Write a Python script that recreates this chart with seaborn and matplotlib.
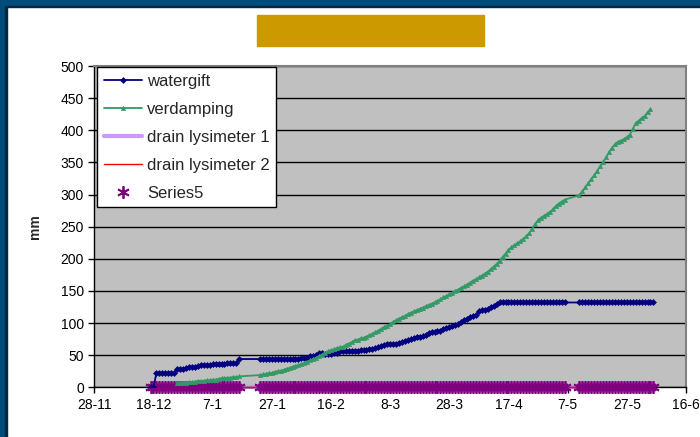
import pandas as pd
import seaborn as sns
import matplotlib.pyplot as plt
from matplotlib.patches import Rectangle

# day 0 = 28-11; days without data (line just joins across them)
start = pd.Timestamp("2004-11-28")
gap_days = [50, 51, 52, 53, 54, 55, 160, 161, 162, 163]

# watergift, days 19..189 (minus gaps)
watergift = [
    0, 0,
    22, 22, 22, 22, 22, 22, 22,
    28.5, 28.5, 29, 30, 31, 31, 32, 33, 34, 34, 35, 35, 36, 36, 37, 37, 37,
    38, 38, 38, 38, 44,
    44, 44, 44, 44, 44, 44, 44, 44, 44, 44, 44, 44, 44,
    44, 45, 45, 46, 48, 49, 51, 53, 53, 52, 52, 52, 53, 54, 56, 56, 56, 56,
    57, 57, 57, 58, 58, 58, 59, 60, 61, 62, 64, 66, 67, 67, 68, 68, 69, 70,
    72, 73, 75, 77, 79, 79, 80, 82, 84, 86, 86, 87, 88, 90, 93, 94, 96, 97,
    99, 101, 104, 107, 109, 111, 112, 118, 120, 121, 122, 125, 127, 130, 132,
    132, 132, 132, 132, 132, 132, 132, 132, 132, 132, 132,
    132, 132, 132, 132, 132, 132, 132, 132, 132, 132, 132,
    132, 132, 132, 132, 132, 132, 132, 132, 132, 132, 132, 132, 132,
    132, 132, 132, 132, 132, 132, 132, 132, 132, 132, 132, 132, 132,
]

# verdamping, days 28..188 (minus gaps)
verdamping = [
    6, 6, 7, 7, 8, 8, 9, 10, 10, 10, 11, 11, 12, 12, 13, 14, 14, 15, 15, 16,
    16, 17,
    19, 20, 21, 22, 22, 24, 25, 26, 27, 29,
    30, 32, 33, 35, 36, 38, 40, 42, 44, 46,
    49, 51, 54, 56, 58, 59, 61, 62, 63, 66,
    68, 70, 73, 74, 76, 77, 79, 81, 83, 86,
    88, 91, 94, 96, 98, 102, 104, 107, 109, 111,
    114, 116, 118, 120, 122, 124, 126, 128, 130, 132,
    134, 137, 140, 142, 145, 147, 150, 152, 155, 157,
    160, 163, 166, 168, 171, 174, 177, 180, 184, 188,
    192, 197, 203, 208, 214, 218, 221, 224, 227, 231,
    235, 240, 247, 254, 260, 264, 267, 270, 273, 277,
    282, 286, 289, 292,
    299, 305, 311, 318, 324, 330, 337, 344, 351, 358,
    366, 373, 378, 382, 384, 386, 389, 393, 402, 411,
    415, 419, 422, 428, 433,
]

tick_dates = ["2004-11-28", "2004-12-18", "2005-01-07", "2005-01-27",
              "2005-02-16", "2005-03-08", "2005-03-28", "2005-04-17",
              "2005-05-07", "2005-05-27", "2005-06-16"]
tick_labels = ["28-11", "18-12", "7-1", "27-1", "16-2", "8-3", "28-3",
               "17-4", "7-5", "27-5", "16-6"]

days_w = [d for d in range(19, 190) if d not in gap_days]
days_v = [d for d in range(28, 189) if d not in gap_days]
dates_w = start + pd.to_timedelta(days_w, unit="D")
dates_v = start + pd.to_timedelta(days_v, unit="D")

# drains and Series5 stay at 0 the whole period
drain1 = [0] * len(days_w)
drain2 = [0] * len(days_w)
series5 = [0] * len(days_w)

sns.set_style("ticks")
plt.rcParams['font.family'] = ['Liberation Sans', 'DejaVu Sans']

fig = plt.figure(figsize=(7, 4.37), dpi=100)
fig.patch.set_facecolor('white')

# frame of the slide and the empty title box
fig.patches.append(Rectangle((0, 0), 5 / 700, 1, transform=fig.transFigure, color='#004C7A'))
fig.patches.append(Rectangle((5 / 700, 0), 2 / 700, 1 - 6 / 437, transform=fig.transFigure, color='#002A44'))
fig.patches.append(Rectangle((0, 1 - 6 / 437), 1, 6 / 437, transform=fig.transFigure, color='#004C7A'))
fig.patches.append(Rectangle((5 / 700, 1 - 7 / 437), 1, 1 / 437, transform=fig.transFigure, color='#002A44'))
fig.patches.append(Rectangle((257 / 700, 1 - 46 / 437), 227 / 700, 31 / 437,
                             transform=fig.transFigure, color='#CC9900'))

ax = fig.add_axes([0.1347, 0.1137, 0.8453, 0.7352])
ax.set_facecolor('#C0C0C0')

sns.lineplot(x=dates_w, y=drain1, color='#CC99FF', lw=3, ax=ax,
             label='drain lysimeter 1', zorder=2, clip_on=False)
sns.lineplot(x=dates_w, y=drain2, color='#FF0000', lw=1, ax=ax,
             label='drain lysimeter 2', zorder=3, clip_on=False)
sns.lineplot(x=dates_w, y=series5, color='#800080', linestyle='none',
             marker=(6, 2, 0), markersize=9, mec='#800080', mew=1.3, ax=ax,
             label='Series5', zorder=4, clip_on=False)
sns.lineplot(x=dates_w, y=watergift, color='#000080', lw=1.3, marker='D',
             markersize=3, mec='#000080', mew=0.5, ax=ax,
             label='watergift', zorder=5)
sns.lineplot(x=dates_v, y=verdamping, color='#339966', lw=1.3, marker='^',
             markersize=3, mec='#339966', mew=0.5, ax=ax,
             label='verdamping', zorder=6)

ax.set_ylim(0, 500)
ax.set_yticks(range(0, 501, 50))
ax.set_xlim(pd.Timestamp(tick_dates[0]), pd.Timestamp(tick_dates[-1]))
ax.set_xticks(pd.to_datetime(tick_dates))
ax.set_xticklabels(tick_labels)
ax.set_xlabel('')
ax.set_ylabel('mm', fontsize=10, fontweight='bold')
ax.yaxis.set_label_coords(-0.088, 0.5)

ax.grid(axis='y', color='black', lw=1)
ax.grid(axis='x', visible=False)
ax.set_axisbelow(True)
for side in ['left', 'bottom']:
    ax.spines[side].set_color('black')
    ax.spines[side].set_linewidth(1)
for side in ['top', 'right']:
    ax.spines[side].set_visible(True)
    ax.spines[side].set_color('#808080')
    ax.spines[side].set_linewidth(1.5)
ax.tick_params(direction='out', length=4, width=1, color='black',
               labelsize=10, labelcolor='black')

handles, labels = ax.get_legend_handles_labels()
order = ['watergift', 'verdamping', 'drain lysimeter 1', 'drain lysimeter 2', 'Series5']
hmap = dict(zip(labels, handles))
leg = ax.legend([hmap[k] for k in order], order, loc='upper left',
                bbox_to_anchor=(0.0046, 0.997), borderaxespad=0, fontsize=12,
                frameon=True, fancybox=False, framealpha=1, edgecolor='black',
                handlelength=2.3, handletextpad=0.3, labelspacing=0.78,
                borderpad=0.4)
leg.get_frame().set_linewidth(1)
leg.set_zorder(10)

fig.savefig('out.png', dpi=100)
